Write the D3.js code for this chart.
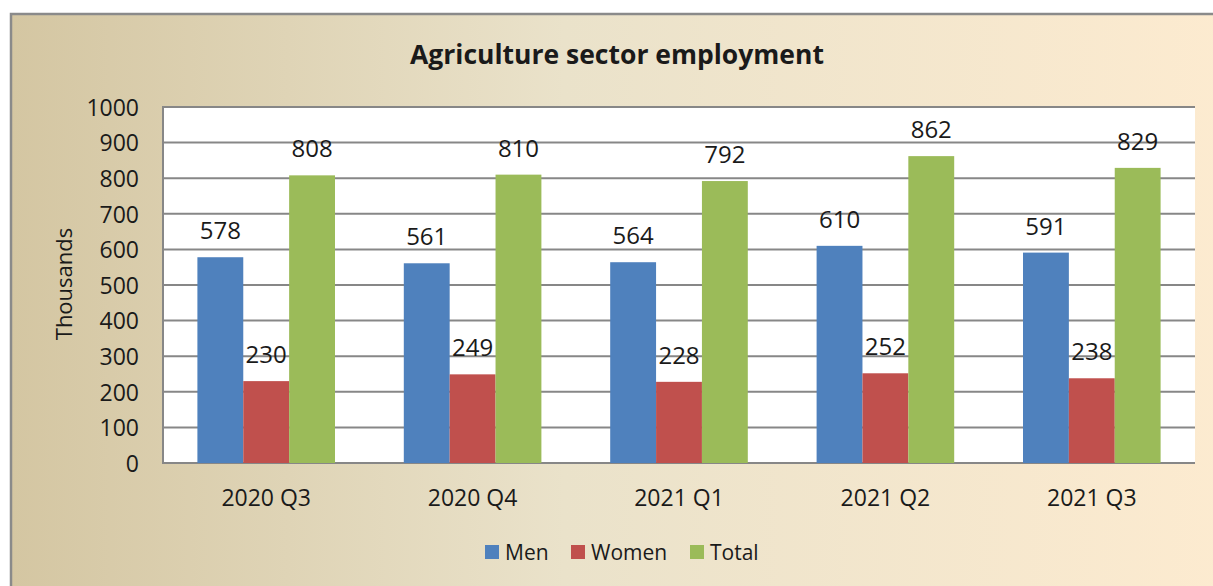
<!DOCTYPE html>
<html><head><meta charset="utf-8">
<script src="https://cdn.jsdelivr.net/npm/d3@7"></script>
<style>body{margin:0;background:#fff;} svg{display:block;} text{font-family:"Open Sans", sans-serif;fill:#1a1a1a;}</style>
</head><body>
<svg id="c" width="1213" height="586"></svg>
<script>
const categories = ["2020 Q3","2020 Q4","2021 Q1","2021 Q2","2021 Q3"];
const seriesNames = ["Men","Women","Total"];
const men = [578,561,564,610,591];
const women = [230,249,228,252,238];
const total = [808,810,792,862,829];
const colors = ["#4F81BD","#C0504D","#9BBB59"];
const yTicks = [0,100,200,300,400,500,600,700,800,900,1000];
const titleText = "Agriculture sector employment";
const yTitle = "Thousands";

const values = [men, women, total];
const svg = d3.select("#c");
const defs = svg.append("defs");
const g = defs.append("linearGradient").attr("id","bg").attr("x1","0").attr("x2","1").attr("y1","0").attr("y2","0");
g.append("stop").attr("offset","0").attr("stop-color","#D4C6A2");
g.append("stop").attr("offset","0.45").attr("stop-color","#EAE2CA");
g.append("stop").attr("offset","1").attr("stop-color","#FDEBD0");

svg.append("rect").attr("x",11).attr("y",14).attr("width",1230).attr("height",600)
  .attr("fill","url(#bg)").attr("stroke","#8a8a8a").attr("stroke-width",2.5);

const L=163, R=1195, T=107, B=463;
const x0 = d3.scaleBand().domain(categories).range([L,R]).paddingInner(0).paddingOuter(0);
const x1 = d3.scaleBand().domain(seriesNames).range([0,x0.bandwidth()]).paddingInner(0).paddingOuter(0.75);
const y = d3.scaleLinear().domain([0,1000]).range([B,T]);

svg.append("rect").attr("x",L).attr("y",T).attr("width",R-L).attr("height",B-T).attr("fill","#fff");

svg.append("g").selectAll("line").data(yTicks).join("line")
  .attr("x1",L).attr("x2",R).attr("y1",d=>y(d)).attr("y2",d=>y(d))
  .attr("stroke","#878787").attr("stroke-width",2);
svg.append("line").attr("x1",L).attr("x2",L).attr("y1",T-1).attr("y2",B+1).attr("stroke","#878787").attr("stroke-width",2);

const data = [];
categories.forEach((c,i)=>seriesNames.forEach((s,j)=>data.push({c,s,v:values[j][i],col:colors[j]})));

svg.append("g").selectAll("rect").data(data).join("rect")
  .attr("x",d=>x0(d.c)+x1(d.s)).attr("width",x1.bandwidth())
  .attr("y",d=>y(d.v)).attr("height",d=>y(0)-y(d.v)).attr("fill",d=>d.col);

svg.append("g").selectAll("text").data(data).join("text")
  .attr("x",d=>x0(d.c)+x1(d.s)+x1.bandwidth()/2).attr("y",d=>y(d.v)-18)
  .attr("text-anchor","middle").attr("font-size",24).text(d=>d.v);

// y axis labels
const yAxis = d3.axisLeft(y).tickValues(yTicks).tickFormat(d3.format("d")).tickSize(0).tickPadding(24);
const ya = svg.append("g").attr("transform",`translate(${L},0)`).call(yAxis);
ya.select(".domain").remove();
ya.selectAll("text").attr("font-size",23).attr("font-family",null).attr("fill","#1a1a1a").attr("dy","0.36em");

const xAxis = d3.axisBottom(x0).tickSize(0);
const xa = svg.append("g").attr("transform",`translate(0,${B})`).call(xAxis);
xa.select(".domain").remove();
xa.selectAll("text").attr("font-size",23).attr("font-family",null).attr("fill","#1a1a1a").attr("y",43).attr("dy",0);

svg.append("text").attr("x",617).attr("y",64).attr("text-anchor","middle")
  .attr("font-size",26.5).attr("font-weight","bold").text(titleText);

svg.append("text").attr("transform","translate(72,284) rotate(-90)").attr("text-anchor","middle")
  .attr("font-size",22).text(yTitle);

// legend
const legX = [485,571,690];
const leg = svg.append("g").selectAll("g").data(seriesNames).join("g")
  .attr("transform",(d,i)=>`translate(${legX[i]},545)`);
leg.append("rect").attr("width",14).attr("height",14).attr("fill",(d,i)=>colors[i]);
leg.append("text").attr("x",20).attr("y",7).attr("dy","0.36em").attr("font-size",21).text(d=>d);
</script>
</body></html>
